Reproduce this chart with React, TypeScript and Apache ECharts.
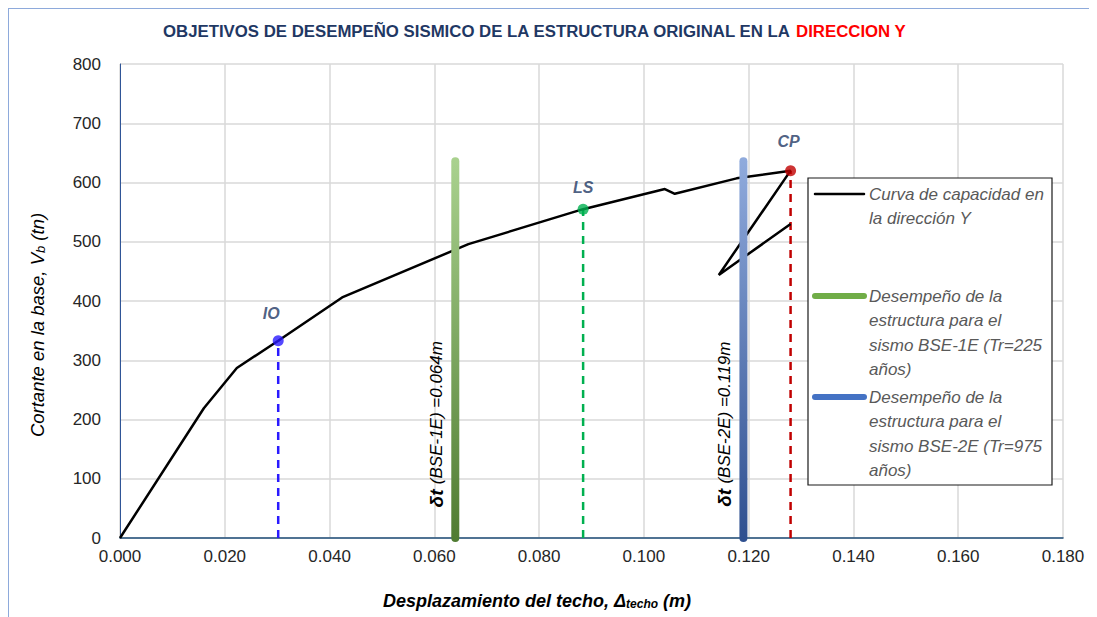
import React, { useEffect, useRef } from "react";
import * as echarts from "echarts";

// Capacity curve (roof displacement m, base shear tn)
const curveX = [0, 0.016, 0.0223, 0.0302, 0.0424, 0.0665, 0.0884, 0.104, 0.1059, 0.1177, 0.128, 0.1143, 0.128];
const curveY = [0, 219, 287, 333, 406, 496, 555, 589, 581, 607, 620, 444, 530];

// Performance points
const pointNames = ["IO", "LS", "CP"];
const pointX = [0.0302, 0.0884, 0.128];
const pointY = [333, 555, 620];
const pointColors = ["#2a1aff", "#00b050", "#c00000"];

// Demand (target displacement) bars
const demandX = [0.064, 0.119];
const demandTop = [636, 636];
const demandTexts = ["(BSE-1E) =0.064m", "(BSE-2E) =0.119m"];
const demandStops = [
  ["#a9d18e", "#507c32"],
  ["#8faadc", "#2f5090"],
];

// Axes
const xMin = 0, xMax = 0.18, xStep = 0.02;
const yMin = 0, yMax = 800, yStep = 100;

const titleMain = "OBJETIVOS DE DESEMPEÑO SISMICO DE LA ESTRUCTURA ORIGINAL EN LA ";
const titleRed = "DIRECCION Y";
const legendCurve = ["Curva de capacidad en", "la dirección Y"];
const legendBse1 = ["Desempeño de la", "estructura para el", "sismo BSE-1E (Tr=225", "años)"];
const legendBse2 = ["Desempeño de la", "estructura para el", "sismo BSE-2E (Tr=975", "años)"];

const FONT = "'Liberation Sans', Arial, sans-serif";

export default function App() {
  const ref = useRef<HTMLDivElement>(null);
  useEffect(() => {
    if (!ref.current) return;
    const chart = echarts.init(ref.current, undefined, { renderer: "svg" });

    const series: any[] = [
      {
        name: "curve",
        type: "line",
        data: curveX.map((x, i) => [x, curveY[i]]),
        symbol: "none",
        lineStyle: { color: "#000", width: 2.5 },
        z: 3,
      },
    ];
    pointX.forEach((x, i) => {
      series.push({
        type: "line",
        data: [[x, 0], [x, pointY[i]]],
        symbol: "none",
        lineStyle: { color: pointColors[i], width: 2.5, type: [8, 6] },
        z: 2,
      });
    });
    const barIndex: number[] = [];
    demandX.forEach((x, i) => {
      barIndex.push(series.length);
      series.push({
        type: "line",
        data: [[x, 0], [x, demandTop[i]]],
        symbol: "none",
        lineStyle: { color: demandStops[i][1], width: 8, cap: "round" },
        z: 4,
      });
    });
    const labelOffsets = [[-7, -6], [0, 0], [-2, -8]];
    series.push({
      type: "scatter",
      data: pointX.map((x, i) => ({
        value: [x, pointY[i]],
        itemStyle: { color: pointColors[i] },
        label: { offset: labelOffsets[i] },
      })),
      symbolSize: 11,
      z: 6,
      label: {
        show: true,
        position: "top",
        distance: 8,
        formatter: (p: any) => pointNames[p.dataIndex],
        color: "#1f3864",
        fontFamily: FONT,
        fontSize: 16,
        fontWeight: "bold",
        fontStyle: "italic",
      },
    });

    const option: any = {
      animation: false,
      backgroundColor: "#fff",
      title: {
        left: 154,
        top: 14,
        padding: 0,
        text: `{a|${titleMain}}{r|${titleRed}}`,
        textStyle: {
          rich: {
            a: { color: "#1f3864", fontSize: 16.8, fontWeight: "bold", fontFamily: FONT },
            r: { color: "#ff0000", fontSize: 16.8, fontWeight: "bold", fontFamily: FONT },
          },
        },
      },
      grid: { left: 111, right: 34, top: 55, bottom: 79 },
      xAxis: {
        type: "value",
        min: xMin,
        max: xMax,
        interval: xStep,
        axisLine: { show: true, onZero: false, lineStyle: { color: "#1f4e79", width: 1.5 } },
        axisTick: { show: false },
        splitLine: { show: true, lineStyle: { color: "#d9d9d9", width: 1.5 } },
        axisLabel: {
          margin: 10,
          color: "#262626",
          fontSize: 17,
          fontFamily: FONT,
          formatter: (v: number) => v.toFixed(3),
        },
      },
      yAxis: {
        type: "value",
        min: yMin,
        max: yMax,
        interval: yStep,
        axisLine: { show: true, lineStyle: { color: "#2f5597", width: 1 } },
        axisTick: { show: false },
        splitLine: { show: true, lineStyle: { color: "#d9d9d9", width: 1.5 } },
        axisLabel: { margin: 19, color: "#262626", fontSize: 17, fontFamily: FONT },
      },
      series,
    };
    chart.setOption(option);

    // Vertical gradients in pixel space (a vertical line has a zero-width bounding box)
    demandX.forEach((x, i) => {
      const pTop = chart.convertToPixel({ gridIndex: 0 }, [x, demandTop[i]]) as number[];
      const pBot = chart.convertToPixel({ gridIndex: 0 }, [x, 0]) as number[];
      series[barIndex[i]].lineStyle.color = new echarts.graphic.LinearGradient(
        0, pTop[1], 0, pBot[1],
        [
          { offset: 0, color: demandStops[i][0] },
          { offset: 1, color: demandStops[i][1] },
        ],
        true
      );
    });

    // Annotations positioned through the axes
    const graphic: any[] = [];
    demandX.forEach((x, i) => {
      const p = chart.convertToPixel({ gridIndex: 0 }, [x, 192]) as number[];
      graphic.push({
        type: "text",
        x: p[0] - 19,
        y: p[1],
        rotation: Math.PI / 2,
        style: {
          text: `{b|δt }{i|${demandTexts[i]}}`,
          align: "center",
          verticalAlign: "middle",
          rich: {
            b: { fontSize: 19, fontWeight: "bold", fontStyle: "italic", fill: "#000", fontFamily: FONT },
            i: { fontSize: 17, fontStyle: "italic", fill: "#000", fontFamily: FONT },
          },
        },
        z: 10,
      });
    });

    // Axis titles
    graphic.push({
      type: "text",
      x: 528,
      y: 592,
      style: {
        text: "{n|Desplazamiento del techo, Δ}{s|techo}{n| (m)}",
        align: "center",
        verticalAlign: "middle",
        rich: {
          n: { fontSize: 18, fontWeight: "bold", fontStyle: "italic", fill: "#000", fontFamily: FONT },
          s: { fontSize: 12, fontWeight: "bold", fontStyle: "italic", fill: "#000", fontFamily: FONT, padding: [6, 0, 0, 0] },
        },
      },
    });
    graphic.push({
      type: "text",
      x: 28,
      y: 316,
      rotation: Math.PI / 2,
      style: {
        text: "{n|Cortante en la base, V}{s|b}{n| (tn)}",
        align: "center",
        verticalAlign: "middle",
        rich: {
          n: { fontSize: 18.5, fontStyle: "italic", fill: "#000", fontFamily: FONT },
          s: { fontSize: 13, fontStyle: "italic", fill: "#000", fontFamily: FONT, padding: [6, 0, 0, 0] },
        },
      },
    });

    // Legend box
    const lx = 799, ly = 169, lw = 244, lh = 307;
    graphic.push({
      type: "rect",
      shape: { x: lx, y: ly, width: lw, height: lh },
      style: { fill: "#fff", stroke: "#1a1a1a", lineWidth: 1.2 },
      z: 20,
    });
    const textStyle = { fill: "#595959", fontSize: 17, fontStyle: "italic", fontFamily: FONT };
    const items = [
      { lines: legendCurve, y: ly + 16, color: "#000", width: 2.5 },
      { lines: legendBse1, y: ly + 118, color: "#70ad47", width: 6 },
      { lines: legendBse2, y: ly + 219, color: "#4472c4", width: 6 },
    ];
    items.forEach((it) => {
      graphic.push({
        type: "line",
        shape: { x1: lx + 7, y1: it.y, x2: lx + 56, y2: it.y },
        style: { stroke: it.color, lineWidth: it.width, lineCap: "round" },
        z: 21,
      });
      it.lines.forEach((t, k) => {
        graphic.push({
          type: "text",
          x: lx + 61,
          y: it.y + k * 24.5,
          style: { ...textStyle, text: t, verticalAlign: "middle", align: "left" },
          z: 21,
        });
      });
    });
    option.graphic = graphic;
    chart.setOption(option, true);

    return () => chart.dispose();
  }, []);

  return (
    <div
      style={{
        position: "relative",
        width: 1089,
        height: 609,
        borderLeft: "1px solid #8eaadb",
        borderTop: "1px solid #8eaadb",
        boxSizing: "border-box",
      }}
    >
      <div ref={ref} style={{ position: "absolute", left: 0, top: 0, width: 1088, height: 608 }} />
    </div>
  );
}
